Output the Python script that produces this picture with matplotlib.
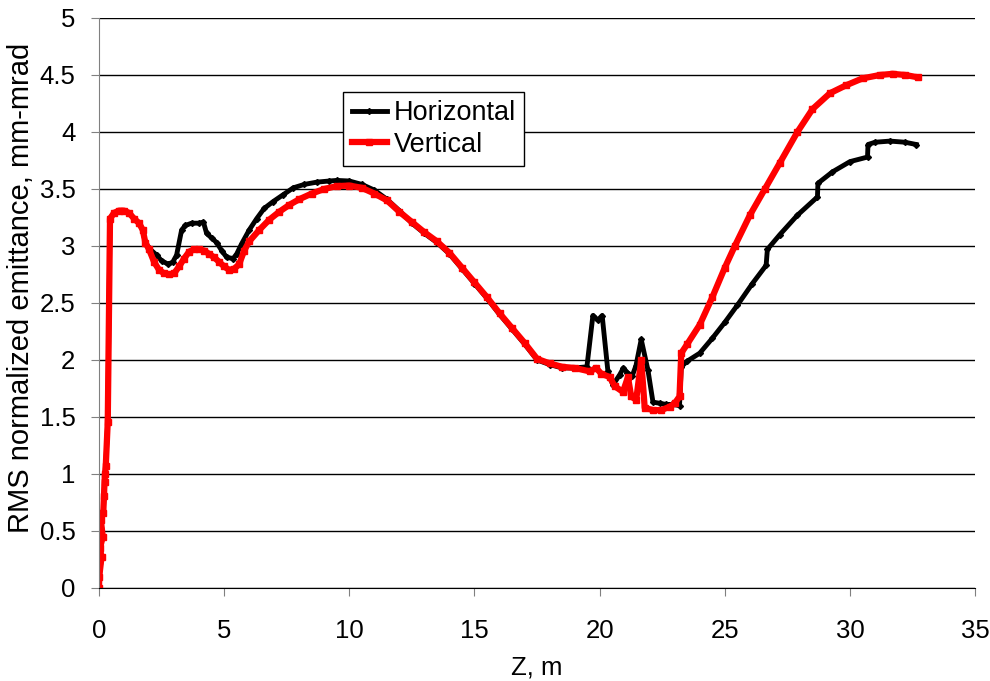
import numpy as np
import matplotlib.pyplot as plt

plt.rcParams['font.family'] = ['Liberation Sans', 'DejaVu Sans']

# Horizontal emittance vs Z
z_h = [0.0, 0.01, 0.1, 0.04, 0.15, 0.07, 0.17, 0.2, 0.22, 0.24, 0.27, 0.35, 0.44,
       0.6, 0.8, 1.0, 1.2, 1.4, 1.6, 1.75, 1.85, 2.0, 2.3, 2.5, 2.77, 2.95, 3.1,
       3.3, 3.45, 3.7, 4.0, 4.17, 4.3, 4.5, 4.7, 4.9, 5.1, 5.36, 5.5, 5.7, 6.0,
       6.3, 6.6, 6.96, 7.36, 7.76, 8.2, 8.7, 9.2, 9.5, 10.0, 10.5, 11.0, 11.5,
       12.0, 12.5, 13.0, 13.5, 14.0, 14.5, 15.0, 15.5, 16.0, 16.5, 17.0, 17.5,
       18.0, 18.5, 19.0, 19.49, 19.73, 19.93, 20.1, 20.33, 20.53, 20.8, 20.95,
       21.1, 21.3, 21.45, 21.66, 21.93, 22.13, 22.4, 22.66, 22.9, 23.19, 23.26,
       23.5, 24.0, 24.5, 25.0, 25.5, 26.1, 26.65, 26.7, 27.2, 27.9, 28.7, 28.72,
       29.3, 30.0, 30.7, 30.72, 31.0, 31.6, 32.2, 32.65]
emit_h = [0.0, 0.1, 0.27, 0.35, 0.45, 0.6, 0.66, 0.81, 0.93, 1.0, 1.07, 1.46, 3.24,
          3.29, 3.31, 3.31, 3.29, 3.24, 3.2, 3.14, 3.03, 2.98, 2.92, 2.87, 2.84, 2.86, 2.92,
          3.14, 3.18, 3.2, 3.2, 3.21, 3.11, 3.07, 3.03, 2.96, 2.9, 2.89, 2.93, 3.02, 3.14,
          3.24, 3.33, 3.39, 3.45, 3.51, 3.54, 3.56, 3.57, 3.575, 3.57, 3.54, 3.49, 3.41,
          3.31, 3.2, 3.11, 3.03, 2.93, 2.8, 2.67, 2.54, 2.4, 2.27, 2.14, 2.0,
          1.96, 1.93, 1.93, 1.94, 2.39, 2.35, 2.39, 1.9, 1.78, 1.87, 1.93,
          1.89, 1.86, 1.95, 2.18, 1.91, 1.63, 1.62, 1.61, 1.61, 1.6, 1.94,
          1.99, 2.06, 2.19, 2.33, 2.48, 2.67, 2.83, 2.97, 3.1, 3.27, 3.43, 3.55,
          3.65, 3.74, 3.78, 3.89, 3.91, 3.92, 3.91, 3.89]

# Vertical emittance vs Z
z_v = [0.0, 0.01, 0.1, 0.04, 0.15, 0.07, 0.17, 0.2, 0.22, 0.24, 0.27, 0.35, 0.44,
       0.6, 0.8, 1.0, 1.2, 1.4, 1.6, 1.75, 1.85, 2.0, 2.2, 2.4, 2.6, 2.8, 3.0, 3.2,
       3.4, 3.6, 3.8, 4.0, 4.2, 4.4, 4.6, 4.8, 5.0, 5.2, 5.4, 5.6, 5.8, 6.0, 6.4,
       6.8, 7.2, 7.6, 8.0, 8.5, 9.0, 9.5, 10.0, 10.5, 11.0, 11.5, 12.0, 12.5,
       13.0, 13.5, 14.0, 14.5, 15.0, 15.5, 16.0, 16.5, 17.0, 17.5, 18.0, 18.5,
       19.0, 19.6, 19.86, 20.06, 20.4, 20.6, 20.93, 21.13, 21.26, 21.46, 21.66,
       21.8, 22.13, 22.46, 22.8, 23.0, 23.19, 23.26, 23.5, 24.0, 24.5, 25.0, 25.4,
       26.0, 26.6, 27.2, 27.9, 28.5, 29.2, 29.85, 30.5, 31.2, 31.7, 32.2, 32.7]
emit_v = [0.0, 0.1, 0.27, 0.35, 0.45, 0.6, 0.66, 0.81, 0.93, 1.0, 1.07, 1.46, 3.24,
          3.29, 3.31, 3.31, 3.29, 3.24, 3.2, 3.14, 3.03, 2.97, 2.86, 2.79, 2.76, 2.75, 2.76, 2.82,
          2.89, 2.95, 2.97, 2.97, 2.96, 2.93, 2.9, 2.86, 2.82, 2.79, 2.8, 2.84, 2.96, 3.04, 3.14,
          3.23, 3.3, 3.36, 3.41, 3.46, 3.5, 3.525, 3.53, 3.51, 3.46, 3.4, 3.3, 3.21,
          3.12, 3.04, 2.94, 2.81, 2.68, 2.55, 2.41, 2.28, 2.15, 2.01, 1.97, 1.94,
          1.93, 1.9, 1.93, 1.88, 1.85, 1.77, 1.72, 1.85, 1.68, 1.65, 2.0,
          1.58, 1.56, 1.56, 1.59, 1.62, 1.68, 2.06, 2.14, 2.31, 2.55, 2.81, 3.0,
          3.27, 3.5, 3.73, 4.0, 4.2, 4.34, 4.41, 4.47, 4.5, 4.51, 4.5, 4.48]

x_ticks = [0, 5, 10, 15, 20, 25, 30, 35]
y_ticks = [0, 0.5, 1, 1.5, 2, 2.5, 3, 3.5, 4, 4.5, 5]
y_labels = ['0', '0.5', '1', '1.5', '2', '2.5', '3', '3.5', '4', '4.5', '5']

fig = plt.figure(figsize=(9.9, 6.81), dpi=100)
ax = fig.add_axes([0.1, 0.1366, 0.885, 0.837])

ax.plot(z_h, emit_h, color='black', lw=3.5, marker='D', ms=3, label='Horizontal')
ax.plot(z_v, emit_v, color='red', lw=4.5, marker='s', ms=4.5, label='Vertical')

ax.set_xlim(0, 35)
ax.set_ylim(0, 5)
ax.set_xticks(x_ticks)
ax.set_yticks(y_ticks)
ax.set_yticklabels(y_labels)
ax.yaxis.grid(True, color='black', lw=1)
ax.set_axisbelow(True)
for s in ['top', 'right']:
    ax.spines[s].set_visible(False)
ax.spines['left'].set_color('#808080')
ax.spines['bottom'].set_color('black')
ax.tick_params(axis='both', direction='out', length=6, color='#808080', labelsize=18.5)
ax.tick_params(axis='x', pad=16)
ax.tick_params(axis='y', pad=11)

ax.set_xlabel('Z, m', fontsize=18.5, labelpad=9)
ax.set_ylabel('RMS normalized emittance, mm-mrad', fontsize=21)
ax.yaxis.set_label_coords(-0.073, 0.527)

leg = ax.legend(loc='upper left', bbox_to_anchor=(0.279, 0.87), fontsize=19.5,
                frameon=True, fancybox=False, edgecolor='black', framealpha=1,
                borderaxespad=0, handlelength=1.3, handletextpad=0.25,
                borderpad=0.3, labelspacing=0.2)
leg.get_frame().set_linewidth(1)

plt.savefig('out.png', dpi=100)
